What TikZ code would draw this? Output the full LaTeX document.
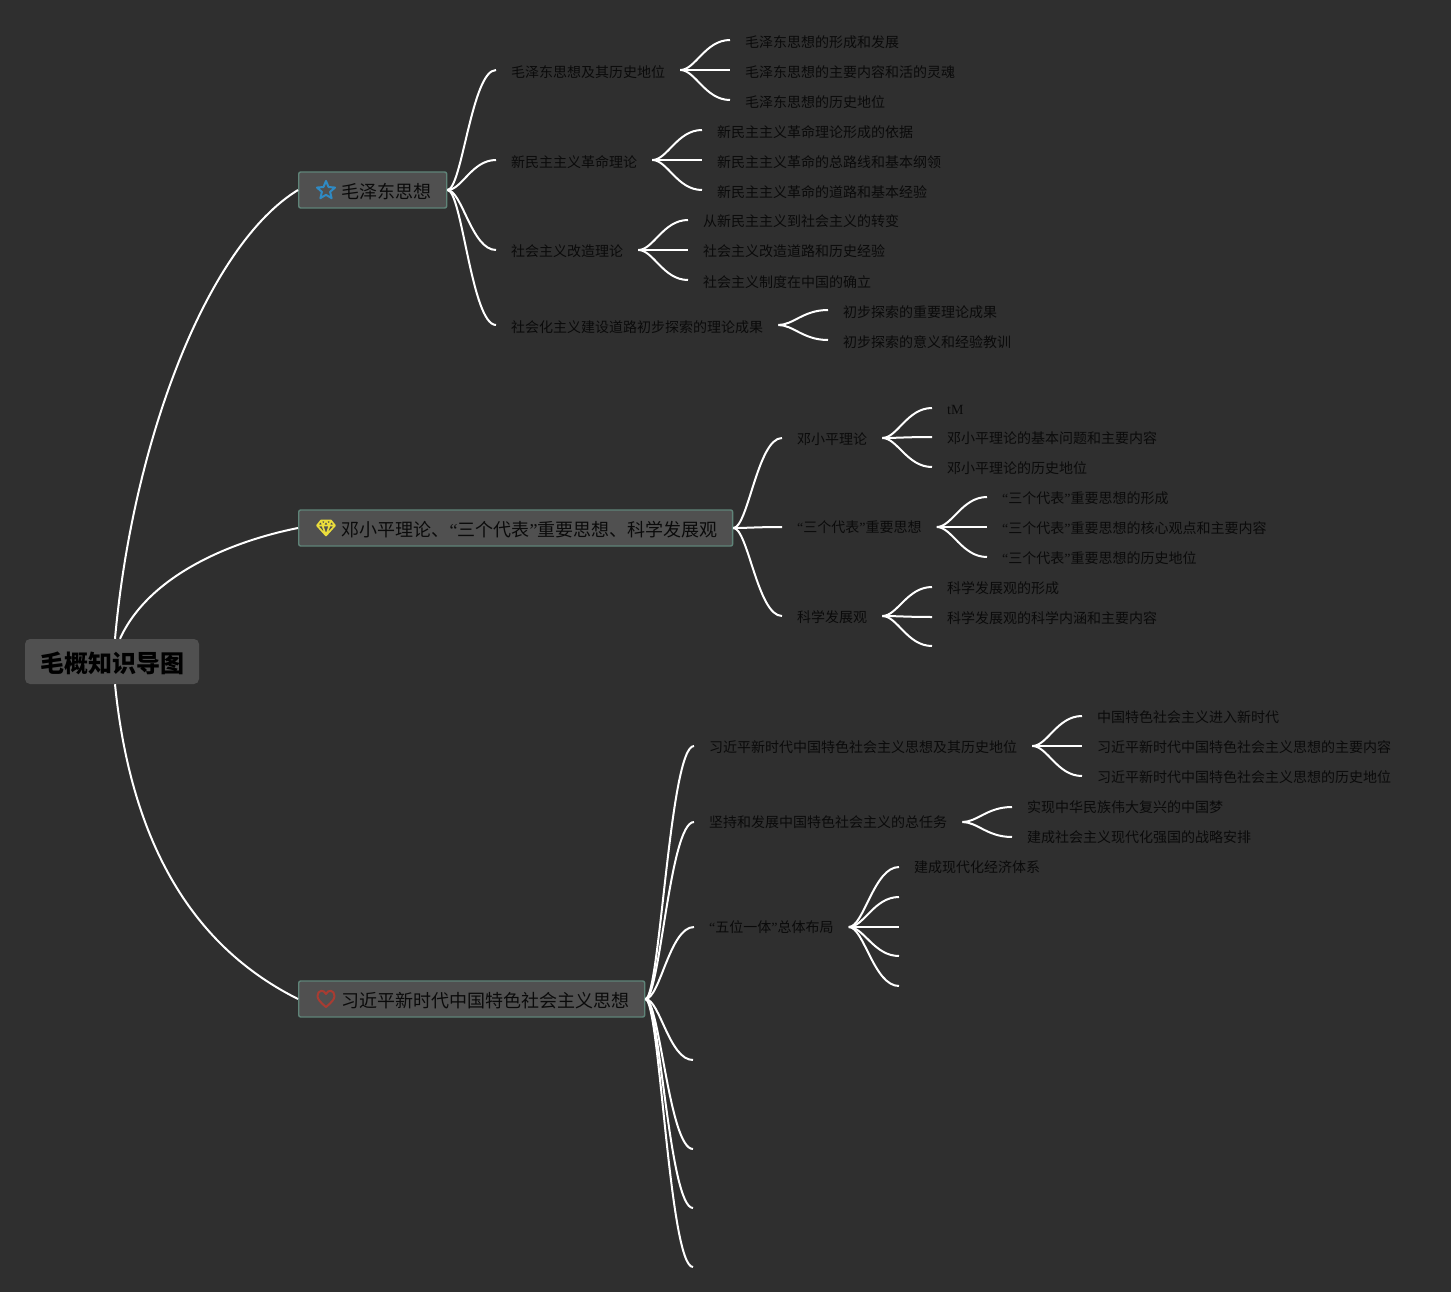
\documentclass[tikz,border=0pt]{standalone}
\usepackage{fontspec}
\setmainfont{Noto Sans CJK SC}
\newfontfamily\latf{Liberation Serif}
\usetikzlibrary{calc,shapes.geometric}
\definecolor{bg}{HTML}{2F2F2F}
\definecolor{boxfill}{HTML}{505050}
\definecolor{boxline}{HTML}{5F8478}
\definecolor{ink}{HTML}{0A0A0A}
\definecolor{iconblue}{HTML}{2F8AC4}
\definecolor{iconyellow}{HTML}{EBDD3C}
\definecolor{iconred}{HTML}{A83C32}
\newcommand{\qo}{{\latf “}}
\newcommand{\qc}{{\latf ”}}
\tikzset{
  x=1pt,y=-1pt,
  leafnode/.style={anchor=west,inner xsep=15pt,inner ysep=0pt,text=ink,text height=13pt,text depth=1pt,font=\fontsize{14}{16}\selectfont},
  lowtwo/.style={leafnode,text height=16pt,text depth=0pt},
  lowone/.style={leafnode,text height=14pt,text depth=0pt},
  highone/.style={leafnode,text height=12pt,text depth=2pt},
  mainnode/.style={anchor=west,draw=boxline,fill=boxfill,line width=1.4pt,rounded corners=2pt,inner xsep=15pt,inner ysep=0pt,minimum height=36pt,text=ink,text height=18pt,text depth=1pt,font=\fontsize{18}{20}\selectfont},
  rootnode/.style={anchor=center,fill=boxfill,rounded corners=5pt,minimum width=174pt,minimum height=45pt,inner sep=0pt,text=black,text height=23pt,text depth=2pt,font=\fontsize{24}{26}\selectfont\bfseries},
  link/.style={draw=white,line width=2pt},
  iconstroke/.style={line width=2pt,line join=round}
}
\newcommand{\conn}[2]{\draw[link] let \p1=(#1),\p2=(#2) in (\p1) .. controls ({\x1+0.3*(\x2-\x1)},\y1) and ({\x1+0.5*(\x2-\x1)},\y2) .. (\p2);}
\begin{document}
\begin{tikzpicture}
\useasboundingbox (0,0) rectangle (1451,1292);
\fill[bg] (0,0) rectangle (1451,1292);

% main nodes
\node[rootnode] (root) at (112,661.5) {毛概知识导图};
\node[mainnode] (m1) at (298,190) {\hspace*{28pt}毛泽东思想};
\node[mainnode] (m2) at (298,528) {\hspace*{28pt}邓小平理论、\qo 三个代表\qc 重要思想、科学发展观};
\node[mainnode] (m3) at (298,999) {\hspace*{28pt}习近平新时代中国特色社会主义思想};

% icons
\node[star,star points=5,star point ratio=2.2,draw=iconblue,iconstroke,minimum size=19pt,inner sep=0pt] (icona) at (326,190.5) {};
\draw[draw=iconyellow,iconstroke,line width=1.7pt] (321,520.5) -- (331,520.5) -- (335,525.5) -- (326,535.5) -- (317,525.5) -- cycle (317,525.5) -- (335,525.5) (322.5,525.5) -- (326,535.5) -- (329.5,525.5) (321,520.5) -- (323,525.5) -- (326,520.5) -- (329,525.5) -- (331,520.5);
\draw[draw=iconred,iconstroke] (326,1007) .. controls (320,1002) and (317.5,999) .. (317.5,996) .. controls (317.5,990) and (324,989) .. (326,994) .. controls (328,989) and (334.5,990) .. (334.5,996) .. controls (334.5,999) and (332,1002) .. (326,1007) -- cycle;

% level 2 (Mao)
\node[lowtwo] (a1) at (496,70) {毛泽东思想及其历史地位};
\node[lowtwo] (a2) at (496,160) {新民主主义革命理论};
\node[lowone] (a3) at (496,250) {社会主义改造理论};
\node[lowone] (a4) at (496,325) {社会化主义建设道路初步探索的理论成果};
% level 3 (Mao)
\node[lowtwo] (a11) at (730,40) {毛泽东思想的形成和发展};
\node[lowtwo] (a12) at (730,70) {毛泽东思想的主要内容和活的灵魂};
\node[lowtwo] (a13) at (730,100) {毛泽东思想的历史地位};
\node[lowtwo] (a21) at (702,130) {新民主主义革命理论形成的依据};
\node[lowtwo] (a22) at (702,160) {新民主主义革命的总路线和基本纲领};
\node[lowtwo] (a23) at (702,190) {新民主主义革命的道路和基本经验};
\node[lowone] (a31) at (688,220) {从新民主主义到社会主义的转变};
\node[lowone] (a32) at (688,250) {社会主义改造道路和历史经验};
\node[lowone] (a33) at (688,280) {社会主义制度在中国的确立};
\node[lowone] (a41) at (828,310) {初步探索的重要理论成果};
\node[lowone] (a42) at (828,340) {初步探索的意义和经验教训};

% level 2 (Deng)
\node[leafnode] (b1) at (782,438) {邓小平理论};
\node[highone] (b2) at (782,527) {\qo 三个代表\qc 重要思想};
\node[leafnode] (b3) at (782,616) {科学发展观};
% level 3 (Deng)
\node[leafnode] (b11) at (932,408) {{\latf tM}};
\node[leafnode] (b12) at (932,437) {邓小平理论的基本问题和主要内容};
\node[leafnode] (b13) at (932,467) {邓小平理论的历史地位};
\node[leafnode] (b21) at (987,497) {\qo 三个代表\qc 重要思想的形成};
\node[leafnode] (b22) at (987,527) {\qo 三个代表\qc 重要思想的核心观点和主要内容};
\node[leafnode] (b23) at (987,557) {\qo 三个代表\qc 重要思想的历史地位};
\node[leafnode] (b31) at (932,587) {科学发展观的形成};
\node[leafnode] (b32) at (932,617) {科学发展观的科学内涵和主要内容};
\coordinate (b33) at (932,646);

% level 2 (Xi)
\node[leafnode] (c1) at (694,746) {习近平新时代中国特色社会主义思想及其历史地位};
\node[highone] (c2) at (694,822) {坚持和发展中国特色社会主义的总任务};
\node[highone] (c3) at (694,927) {\qo 五位一体\qc 总体布局};
\coordinate (c4) at (693,1060);
\coordinate (c5) at (693,1149);
\coordinate (c6) at (693,1208);
\coordinate (c7) at (693,1267);
% level 3 (Xi)
\node[leafnode] (c11) at (1082,716) {中国特色社会主义进入新时代};
\node[leafnode] (c12) at (1082,746) {习近平新时代中国特色社会主义思想的主要内容};
\node[leafnode] (c13) at (1082,776) {习近平新时代中国特色社会主义思想的历史地位};
\node[highone] (c21) at (1012,807) {实现中华民族伟大复兴的中国梦};
\node[highone] (c22) at (1012,837) {建成社会主义现代化强国的战略安排};
\node[highone] (c31) at (899,867) {建成现代化经济体系};
\coordinate (c32) at (899,897);
\coordinate (c33) at (899,927);
\coordinate (c34) at (899,956);
\coordinate (c35) at (899,986);

% root connectors
\draw[link] ($(root.north)+(3,0)$) .. controls +(18,-200) and ($(m1.west)+(-90,55)$) .. (m1.west);
\draw[link] ($(root.north)+(8,0)$) .. controls +(28,-62) and ($(m2.west)+(-70,14)$) .. (m2.west);
\draw[link] ($(root.south)+(3,0)$) .. controls +(18,180) and ($(m3.west)+(-90,-45)$) .. (m3.west);

% level connectors
\foreach \src/\dst in {m1.east/a1.west,m1.east/a2.west,m1.east/a3.west,m1.east/a4.west,
  a1.east/a11.west,a1.east/a12.west,a1.east/a13.west,
  a2.east/a21.west,a2.east/a22.west,a2.east/a23.west,
  a3.east/a31.west,a3.east/a32.west,a3.east/a33.west,
  a4.east/a41.west,a4.east/a42.west,
  m2.east/b1.west,m2.east/b2.west,m2.east/b3.west,
  b1.east/b11.west,b1.east/b12.west,b1.east/b13.west,
  b2.east/b21.west,b2.east/b22.west,b2.east/b23.west,
  b3.east/b31.west,b3.east/b32.west,b3.east/b33,
  m3.east/c1.west,m3.east/c2.west,m3.east/c3.west,m3.east/c4,m3.east/c5,m3.east/c6,m3.east/c7,
  c1.east/c11.west,c1.east/c12.west,c1.east/c13.west,
  c2.east/c21.west,c2.east/c22.west,
  c3.east/c31.west,c3.east/c32,c3.east/c33,c3.east/c34,c3.east/c35}{
  \conn{\src}{\dst}
}
\end{tikzpicture}
\end{document}
